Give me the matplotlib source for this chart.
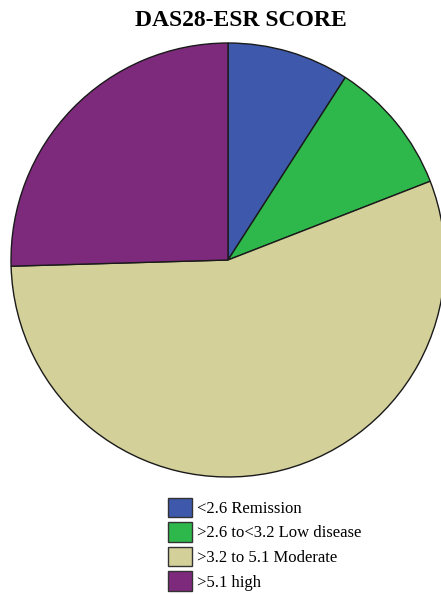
import matplotlib
matplotlib.use("Agg")
import matplotlib.pyplot as plt

# DAS28-ESR score groups (counts)
labels = ["<2.6 Remission", ">2.6 to<3.2 Low disease", ">3.2 to 5.1 Moderate", ">5.1 high"]
counts = [10, 11, 61, 28]
colors = ["#3e58ac", "#2eb84b", "#d4d09a", "#7e2a7c"]

plt.rcParams["font.family"] = ["Liberation Serif", "DejaVu Serif"]

W, H = 441, 595
fig = plt.figure(figsize=(W / 100, H / 100), dpi=100)

# pie centre (228, 260) px, radius 217 px
cx, cy, r = 228, 260, 217
ax = fig.add_axes([(cx - r) / W, (H - cy - r) / H, 2 * r / W, 2 * r / H])
wedges, _ = ax.pie(counts, colors=colors, startangle=90, counterclock=False,
                   radius=1.0,
                   wedgeprops=dict(edgecolor="#1a1a1a", linewidth=1.0))
ax.set_xlim(-1, 1)
ax.set_ylim(-1, 1)
ax.set_aspect("equal")
ax.axis("off")

fig.text(241 / W, 1 - 20 / H, "DAS28-ESR SCORE", ha="center", va="center",
         fontsize=17, fontweight="bold")

leg = fig.legend(wedges, labels, loc="upper left",
                 bbox_to_anchor=(156 / W, 1 - 486 / H), frameon=False,
                 fontsize=12, handlelength=1.45, handleheight=1.4,
                 labelspacing=0.32, handletextpad=0.3, borderpad=0.2)
for p in leg.get_patches():
    p.set_edgecolor("#333333")
    p.set_linewidth(1.0)

fig.savefig("out.png", dpi=100)
